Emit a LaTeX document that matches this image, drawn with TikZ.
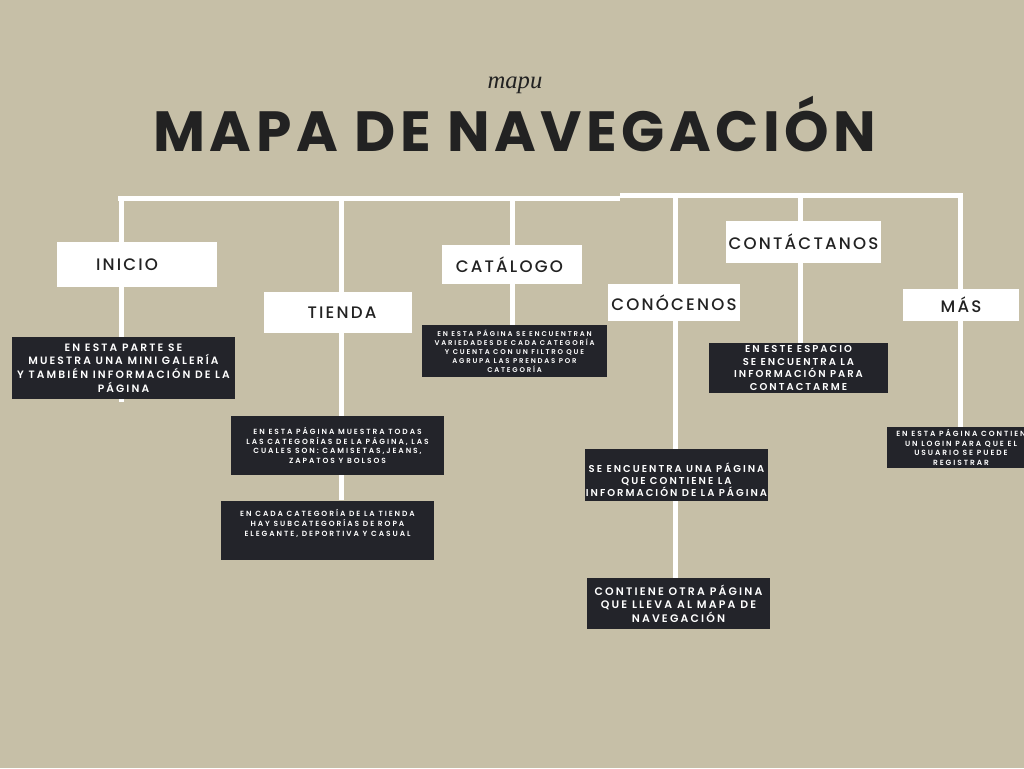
\documentclass[tikz,border=0pt]{standalone}
\usepackage{fontspec}
\setmainfont{Poppins}
\newfontfamily\spacedfont{Poppins Medium}[LetterSpace=13]
\newfontfamily\descfont{Poppins SemiBold}[LetterSpace=20]
\newfontfamily\smalldescfont{Poppins SemiBold}[LetterSpace=26]
\newfontfamily\titlefont{Poppins}[LetterSpace=8]
\newfontfamily\mapufont{Liberation Serif}
\usetikzlibrary{positioning}
\definecolor{bgbeige}{HTML}{C6BFA7}
\definecolor{boxdark}{HTML}{23242A}
\definecolor{inkdark}{HTML}{222222}
\newcommand{\setfs}[2]{\fontsize{#1}{#2}\selectfont}

\begin{document}
\begin{tikzpicture}[x=0.75pt, y=-0.75pt,
    link/.style={white, line width=3.75pt},
    lbl/.style={fill=white, inner sep=0pt, text=inkdark, font=\spacedfont\setfs{12.5}{15}},
    desc/.style={fill=boxdark, text=white, inner sep=0pt, align=center},
  ]
    \useasboundingbox (0,0) rectangle (1024,768);
    \fill[bgbeige] (0,0) rectangle (1024,768);

    % title
    \node[font=\mapufont\itshape\setfs{18.5}{22}, text=inkdark, anchor=base] (mapu) at (515,88) {mapu};
    \node[font=\titlefont\bfseries\setfs{42.5}{50}, text=inkdark, anchor=base] (title) at (515,151) {MAPA DE NAVEGACIÓN};

    % top bar
    \coordinate (barL) at (118,198.5);
    \coordinate (barM) at (620,198.5);
    \coordinate (barN) at (620,195.5);
    \coordinate (barR) at (963,195.5);
    \draw[link] (barL) -- (barM);
    \draw[link] (barN) -- (barR);

    % branches
    \coordinate (jInicio) at (121,198);   \coordinate (eInicio) at (121,402);
    \coordinate (jTienda) at (341,198);   \coordinate (eTienda) at (341,500);
    \coordinate (jCatalogo) at (512,198); \coordinate (eCatalogo) at (512,326);
    \coordinate (jConoce) at (675,196);   \coordinate (eConoce) at (675,578);
    \coordinate (jContacto) at (800,196); \coordinate (eContacto) at (800,343);
    \coordinate (jMas) at (960,196);      \coordinate (eMas) at (960,428);
    \draw[link] (jInicio) -- (eInicio);
    \draw[link] (jTienda) -- (eTienda);
    \draw[link] (jCatalogo) -- (eCatalogo);
    \draw[link] (jConoce) -- (eConoce);
    \draw[link] (jContacto) -- (eContacto);
    \draw[link] (jMas) -- (eMas);

    % page labels
    \node[lbl, minimum width=120pt, minimum height=33.75pt] (inicio) at (137,264.5) {INICIO\rule{15pt}{0pt}};
    \node[lbl, minimum width=111pt, minimum height=30.75pt] (tienda) at (338,312.5) {\rule{6pt}{0pt}TIENDA};
    \node[lbl, minimum width=105pt, minimum height=29.25pt] (catalogo) at (512,264.5) {CATÁLOGO\rule{4pt}{0pt}};
    \node[lbl, minimum width=99pt, minimum height=27.75pt] (conoce) at (674,302.5) {CONÓCENOS};
    \node[lbl, minimum width=116.25pt, minimum height=31.5pt] (contacto) at (803.5,242) {CONTÁCTANOS};
    \node[lbl, minimum width=87pt, minimum height=24pt] (mas) at (961,305) {MÁS};

    % descriptions
    \node[desc, minimum width=167.25pt, minimum height=46.5pt, font=\descfont\setfs{8}{10.2}] (dInicio) at (123.5,368)
        {EN ESTA PARTE SE\\MUESTRA UNA MINI GALERÍA\\Y TAMBIÉN INFORMACIÓN DE LA\\PÁGINA};
    \node[desc, minimum width=159.75pt, minimum height=44.25pt, font=\smalldescfont\setfs{5.6}{7.3}] (dTienda) at (337.5,445.5)
        {EN ESTA PÁGINA MUESTRA TODAS\\LAS CATEGORÍAS DE LA PÁGINA, LAS\\CUALES SON: CAMISETAS,JEANS,\\ZAPATOS Y BOLSOS};
    \node[desc, minimum width=159.75pt, minimum height=44.25pt, text depth=12pt, font=\smalldescfont\setfs{5.6}{7.5}] (dSubcat) at (327.5,530.5)
        {EN CADA CATEGORÍA DE LA TIENDA\\HAY SUBCATEGORÍAS DE ROPA\\ELEGANTE, DEPORTIVA Y CASUAL};
    \node[desc, minimum width=138.75pt, minimum height=39pt, font=\smalldescfont\setfs{5.2}{6.8}] (dCatalogo) at (514.5,351)
        {EN ESTA PÁGINA SE ENCUENTRAN\\VARIEDADES DE CADA CATEGORÍA\\Y CUENTA CON UN FILTRO QUE\\AGRUPA LAS PRENDAS POR\\CATEGORÍA};
    \node[desc, minimum width=134.25pt, minimum height=37.5pt, font=\descfont\setfs{7.5}{9.5}] (dContacto) at (798.5,368)
        {EN ESTE ESPACIO\\SE ENCUENTRA LA\\INFORMACIÓN PARA\\CONTACTARME};
    \node[desc, minimum width=137.25pt, minimum height=39pt, text height=32pt, font=\descfont\setfs{7.5}{9}] (dConoce) at (676.5,475)
        {SE ENCUENTRA UNA PÁGINA\\QUE CONTIENE LA\\INFORMACIÓN DE LA PÁGINA};
    \node[desc, minimum width=137.25pt, minimum height=38.25pt, font=\descfont\setfs{8.2}{10}] (dOtra) at (678.5,603.5)
        {CONTIENE OTRA PÁGINA\\QUE LLEVA AL MAPA DE\\NAVEGACIÓN};
    \node[desc, minimum width=111pt, minimum height=30.75pt, font=\smalldescfont\setfs{5.6}{7.3}] (dMas) at (961,447.5)
        {EN ESTA PÁGINA CONTIEN\\UN LOGIN PARA QUE EL\\USUARIO SE PUEDE\\REGISTRAR};
\end{tikzpicture}
\end{document}
